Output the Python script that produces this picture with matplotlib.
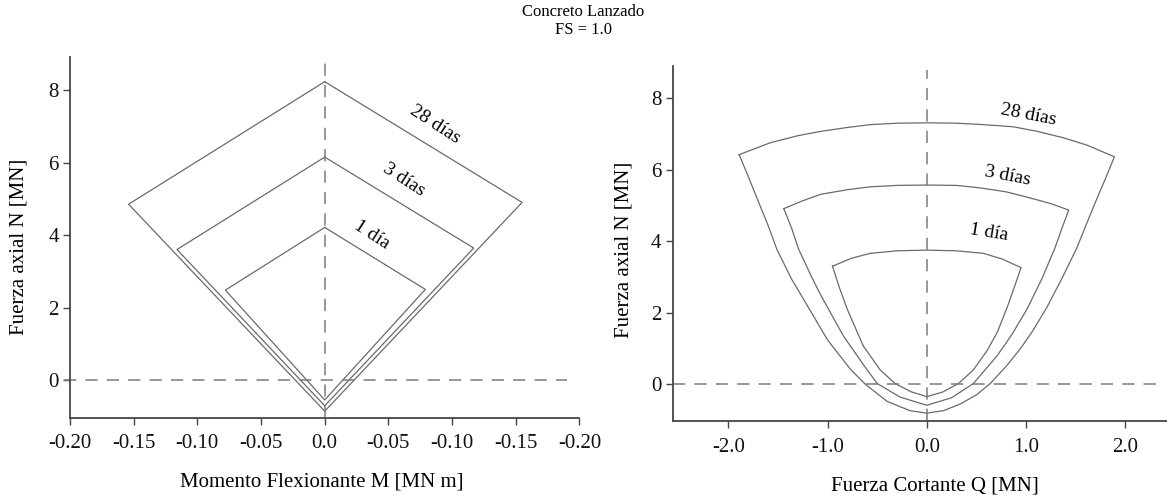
import matplotlib
matplotlib.use('Agg')
import matplotlib.pyplot as plt

plt.rcParams['font.family'] = ['Liberation Serif', 'DejaVu Serif']

# ---- left panel: M-N envelopes (vertices: apex, right, bottom, left, apex)
m_28 = [0.0, 0.155, 0.0, -0.154, 0.0]
mn_28 = [8.23, 4.90, -0.86, 4.85, 8.23]
m_3 = [0.0, 0.117, 0.0, -0.116, 0.0]
mn_3 = [6.15, 3.64, -0.71, 3.60, 6.15]
m_1 = [0.0, 0.079, 0.0, -0.078, 0.0]
mn_1 = [4.21, 2.50, -0.55, 2.48, 4.21]

m_ticks = [-0.20, -0.15, -0.10, -0.05, 0.0, 0.05, 0.10, 0.15, 0.20]
m_ticklabels = ['-0.20', '-0.15', '-0.10', '-0.05', '0.0', '-0.05', '-0.10', '-0.15', '-0.20']

# ---- right panel: Q-N envelopes (top arc, right side down, left side up)
q_28 = [-1.89, -1.58, -1.30, -1.07, -0.80, -0.57, -0.30, 0.0, 0.30, 0.57, 0.87, 1.10, 1.38, 1.62, 1.89,
        1.80, 1.70, 1.60, 1.51, 1.36, 1.21, 1.07, 0.94, 0.80, 0.64, 0.50, 0.34, 0.17, 0.0,
        -0.17, -0.40, -0.62, -0.77, -1.00, -1.24, -1.36, -1.51, -1.60, -1.71, -1.80, -1.89]
qn_28 = [6.42, 6.75, 6.95, 7.07, 7.18, 7.26, 7.30, 7.31, 7.30, 7.26, 7.20, 7.08, 6.89, 6.68, 6.36,
         5.75, 5.10, 4.42, 3.80, 2.95, 2.15, 1.50, 0.98, 0.50, 0.02, -0.30, -0.55, -0.74, -0.81,
         -0.74, -0.48, 0.00, 0.42, 1.24, 2.37, 2.93, 3.77, 4.45, 5.20, 5.82, 6.42]

q_3 = [-1.44, -1.25, -1.07, -0.80, -0.57, -0.30, 0.0, 0.30, 0.54, 0.80, 1.04, 1.25, 1.43,
       1.36, 1.29, 1.16, 1.01, 0.86, 0.71, 0.47, 0.25, 0.0,
       -0.27, -0.50, -0.64, -0.84, -1.07, -1.16, -1.29, -1.36, -1.44]
qn_3 = [4.91, 5.13, 5.31, 5.44, 5.52, 5.56, 5.57, 5.56, 5.49, 5.38, 5.21, 5.05, 4.87,
        4.35, 3.80, 2.95, 2.10, 1.40, 0.80, 0.02, -0.38, -0.59,
        -0.36, 0.02, 0.55, 1.35, 2.50, 3.00, 3.77, 4.35, 4.91]

q_1 = [-0.95, -0.76, -0.57, -0.30, 0.0, 0.30, 0.57, 0.76, 0.95,
       0.88, 0.81, 0.71, 0.61, 0.47, 0.32, 0.16, 0.0,
       -0.16, -0.32, -0.47, -0.64, -0.80, -0.88, -0.95]
qn_1 = [3.30, 3.52, 3.66, 3.73, 3.75, 3.73, 3.66, 3.50, 3.26,
        2.70, 2.15, 1.45, 0.95, 0.40, 0.02, -0.22, -0.35,
        -0.21, 0.02, 0.40, 1.07, 2.09, 2.70, 3.30]

q_ticks = [-2.0, -1.0, 0.0, 1.0, 2.0]
q_ticklabels = ['-2.0', '-1.0', '0.0', '1.0', '2.0']
n_ticks = [0, 2, 4, 6, 8]

line_c = '#6a6a6a'
dash_c = '#7a7a7a'
spine_c = '#454545'

fig = plt.figure(figsize=(11.67, 5.0), dpi=100)
ax1 = fig.add_axes([0.060, 0.1646, 0.4365, 0.722])
ax2 = fig.add_axes([0.5764, 0.158, 0.4236, 0.710])

for ax in (ax1, ax2):
    for s in ('top', 'right'):
        ax.spines[s].set_visible(False)
    for s in ('left', 'bottom'):
        ax.spines[s].set_color(spine_c)
        ax.spines[s].set_linewidth(1.3)
    ax.tick_params(direction='out', length=5, width=1.0, color=spine_c,
                   labelsize=15, labelcolor='#111111')
    ax.tick_params(axis='y', pad=3)
    ax.tick_params(axis='x', pad=7)
    ax.set_yticks(n_ticks)

# Plot 1
for mm, nn in [(m_28, mn_28), (m_3, mn_3), (m_1, mn_1)]:
    ax1.plot(mm, nn, color=line_c, lw=0.9)
ax1.plot([0, 0], [-1.04, 8.78], color=dash_c, lw=1.1, dashes=(8, 6), clip_on=False)
ax1.plot([-0.205, 0.19], [0, 0], color=dash_c, lw=1.1, dashes=(8, 6), clip_on=False)
ax1.set_xlim(-0.2, 0.2)
ax1.set_ylim(-1.04, 8.92)
ax1.set_xticks(m_ticks, m_ticklabels)
ax1.text(0.087, 7.05, '28 días', fontsize=14, rotation=-33, ha='center', va='center')
ax1.text(0.062, 5.52, '3 días', fontsize=14, rotation=-33, ha='center', va='center')
ax1.text(0.037, 4.00, '1 día', fontsize=14, rotation=-33, ha='center', va='center')

# Plot 2
for qq, nn in [(q_28, qn_28), (q_3, qn_3), (q_1, qn_1)]:
    ax2.plot(qq, nn, color=line_c, lw=0.9)
ax2.plot([0, 0], [-1.03, 8.8], color=dash_c, lw=1.1, dashes=(8, 6), clip_on=False)
ax2.plot([-2.56, 2.38], [0, 0], color=dash_c, lw=1.1, dashes=(8, 6), clip_on=False)
ax2.set_xlim(-2.56, 2.42)
ax2.set_ylim(-1.03, 8.9)
ax2.set_xticks(q_ticks, q_ticklabels)
ax2.text(1.02, 7.54, '28 días', fontsize=14, rotation=-11, ha='center', va='center')
ax2.text(0.81, 5.82, '3 días', fontsize=14, rotation=-11, ha='center', va='center')
ax2.text(0.63, 4.25, '1 día', fontsize=14, rotation=-9, ha='center', va='center')

# labels and title
fig.text(0.276, 0.037, 'Momento Flexionante M [MN m]', fontsize=15, ha='center', va='center')
fig.text(0.801, 0.027, 'Fuerza Cortante Q [MN]', fontsize=15, ha='center', va='center')
fig.text(0.016, 0.507, 'Fuerza axial N [MN]', fontsize=15, rotation=90, ha='center', va='center')
fig.text(0.535, 0.50, 'Fuerza axial N [MN]', fontsize=15, rotation=90, ha='center', va='center')
fig.text(0.5, 0.975, 'Concreto Lanzado', fontsize=12, ha='center', va='center')
fig.text(0.5, 0.94, 'FS = 1.0', fontsize=12, ha='center', va='center')

plt.savefig('out.png', dpi=100)
